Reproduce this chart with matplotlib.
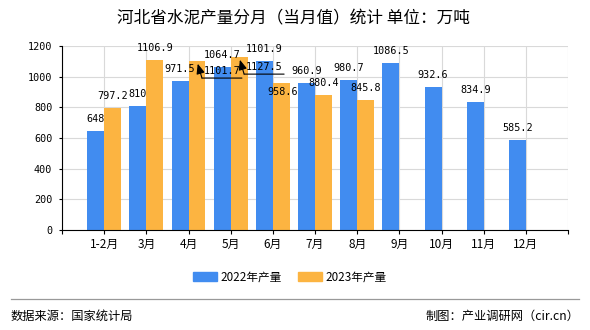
import matplotlib.pyplot as plt
import numpy as np
from matplotlib.patches import Patch
from matplotlib.lines import Line2D

plt.rcParams['font.family'] = ['Noto Sans CJK SC', 'DejaVu Sans']

# monthly cement output, 10k tonnes
months = ['1-2月', '3月', '4月', '5月', '6月', '7月', '8月', '9月', '10月', '11月', '12月']
prod_2022 = [648, 810, 971.5, 1064.7, 1101.9, 960.9, 980.7, 1086.5, 932.6, 834.9, 585.2]
prod_2023 = [797.2, 1106.9, 1101.7, 1127.5, 958.6, 880.4, 845.8]
yticks = [0, 200, 400, 600, 800, 1000, 1200]

blue = '#418CF0'
orange = '#FCB441'
mono = 'DejaVu Sans Mono'

W, H = 590, 330
fig = plt.figure(figsize=(W / 100, H / 100), dpi=100)
ax = fig.add_axes([62 / W, 1 - 230 / H, (568 - 62) / W, (230 - 46) / H])

x = np.arange(1, len(months) + 1)
x23 = x[:len(prod_2023)]
ax.bar(x - 0.2, prod_2022, 0.4, color=blue, zorder=2)
ax.bar(x23 + 0.2, prod_2023, 0.4, color=orange, zorder=2)

ax.set_xlim(0, 12)
ax.set_ylim(0, 1200)
ax.set_xticks(np.arange(0, 13))
ax.set_xticklabels([''] + months + [''], fontsize=8.5)
ax.set_yticks(yticks)
ax.set_yticklabels([str(v) for v in yticks], family=mono, fontsize=7.3)
ax.tick_params(axis='x', length=3, width=0.8, pad=3, colors='black')
ax.tick_params(axis='y', length=2, width=0.8, pad=5, colors='black')
ax.grid(True, color='#d9d9d9', lw=0.8)
ax.set_axisbelow(True)
for s in ['top', 'right']:
    ax.spines[s].set_visible(False)
for s in ['left', 'bottom']:
    ax.spines[s].set_color('black')
    ax.spines[s].set_linewidth(0.8)

# value labels
for xi, v in zip(x - 0.2, prod_2022):
    ax.annotate(f'{v:g}', (xi, v), xytext=(0, 8.6), textcoords='offset points',
                ha='center', va='center', family=mono, fontsize=7.3)

fig.canvas.draw()
for i, (xi, v) in enumerate(zip(x23 + 0.2, prod_2023)):
    lab = f'{v:g}'
    if i in (2, 3):
        # pushed-aside labels with leader line
        ax.annotate(lab, (xi, v), xytext=(18, -7.4), textcoords='offset points',
                    ha='center', va='center', family=mono, fontsize=7.3, zorder=5)
        ax.annotate('', xy=(xi, v), xytext=(3.6, -12.2), textcoords='offset points',
                    arrowprops=dict(arrowstyle='-|>,head_length=0.6,head_width=0.25',
                                    color='black', lw=0.8, shrinkA=0, shrinkB=2),
                    zorder=5)
        px, py = ax.transData.transform((xi, v))
        ax.annotate('', xy=(px + 45, py - 17), xycoords='figure pixels',
                    xytext=(px + 5, py - 17), textcoords='figure pixels',
                    arrowprops=dict(arrowstyle='-', color='black', lw=0.8,
                                    shrinkA=0, shrinkB=0), zorder=5)
    elif i == 4:
        ax.annotate(lab, (xi, v), xytext=(1, -6.2), textcoords='offset points',
                    ha='center', va='center', family=mono, fontsize=7.3, zorder=5)
    else:
        ax.annotate(lab, (xi, v), xytext=(0, 8.6), textcoords='offset points',
                    ha='center', va='center', family=mono, fontsize=7.3)

fig.text(293 / W, 1 - 19 / H, '河北省水泥产量分月（当月值）统计 单位：万吨',
         ha='center', va='center', fontsize=12)

fig.legend(handles=[Patch(color=blue, label='2022年产量'),
                    Patch(color=orange, label='2023年产量')],
           loc='center', bbox_to_anchor=(290 / W, 1 - 277 / H), ncol=2,
           frameon=False, fontsize=8.4, handlelength=2.0, handleheight=0.7,
           handletextpad=0.35, columnspacing=1.4)

fig.add_artist(Line2D([11 / W, 579 / W], [1 - 299 / H, 1 - 299 / H],
                      color='#999999', lw=0.9))
fig.text(11 / W, 1 - 316 / H, '数据来源：国家统计局', ha='left', va='center', fontsize=8.8)
fig.text(579 / W, 1 - 316 / H, '制图：产业调研网（cir.cn）', ha='right', va='center', fontsize=8.8)

fig.savefig('out.png', dpi=100)
